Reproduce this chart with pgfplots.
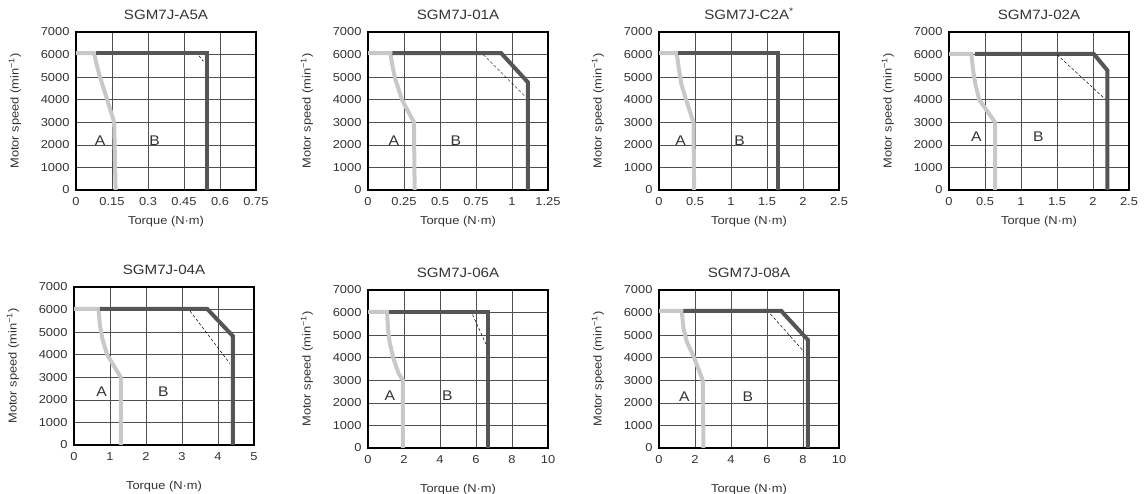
\documentclass[border=0pt]{standalone}
\usepackage{fontspec}
\setmainfont{Liberation Sans}[FakeStretch=1.12]
\usepackage{pgfplots}
\pgfplotsset{compat=1.18}
\definecolor{lightc}{HTML}{C8C8C8}
\definecolor{darkc}{HTML}{555555}
\definecolor{gridc}{HTML}{505050}
\definecolor{txt}{HTML}{333333}
\tikzset{ab/.style={font=\fontsize{14}{16}\selectfont, text=txt}}
\pgfplotsset{
 tc/.style={
  scale only axis, width=180pt, height=158pt,
  anchor=south west,
  ymin=0, ymax=7000, ytick={0,1000,...,7000},
  scaled y ticks=false, scaled x ticks=false,
  /pgf/number format/1000 sep={},
  /pgf/number format/assume math mode=true,
  xmin=0,
  grid=major,
  major grid style={gridc, line width=0.7pt},
  major tick length=0pt,
  axis line style={black, line width=1.5pt},
  tick label style={font=\fontsize{11.5}{13}\selectfont, text=txt},
  yticklabel style={xshift=-3pt},
  xticklabel style={yshift=-4pt},
  title style={font=\fontsize{13.5}{15}\selectfont, text=txt, at={(0.5,1)}, anchor=base, yshift=6pt},
  every axis y label/.style={at={(axis description cs:-0.339,0.5)}, rotate=90, anchor=center, font=\fontsize{11.5}{13}\selectfont, text=txt},
  every axis x label/.style={at={(axis description cs:0.5,-0.2)}, anchor=center, font=\fontsize{11.5}{13}\selectfont, text=txt},
  ylabel={Motor speed (min\textsuperscript{−1})},
  xlabel={Torque (N·m)},
 },
 lt/.style={lightc, line width=4pt, line join=miter, line cap=butt},
 dk/.style={darkc, line width=4pt, line join=miter, line cap=butt},
 ds/.style={black, line width=0.5pt, dash pattern=on 3pt off 2pt},
 lowrow/.style={every axis x label/.append style={at={(axis description cs:0.5,-0.26)}}},
}
\begin{document}
\begin{tikzpicture}
\useasboundingbox (0,0) rectangle (1144pt,494pt);
% 1: A5A
\begin{axis}[tc, at={(76pt,304pt)}, title={SGM7J-A5A}, xmax=0.75,
  xtick={0,0.15,0.3,0.45,0.6,0.75}, xticklabels={0,0.15,0.3,0.45,0.6,0.75}]
\addplot[lt] coordinates {(0,6060) (0.075,6060) (0.085,5600) (0.1,5000) (0.115,4500) (0.13,4000) (0.159,3000) (0.165,0)};
\addplot[dk] coordinates {(0.085,6060) (0.544,6060) (0.544,0)};
\addplot[ds] coordinates {(0.512,5950) (0.531,5700)};
\node[ab] at (axis cs:0.1,2200) {A};
\node[ab] at (axis cs:0.328,2200) {B};
\end{axis}
% 2: 01A
\begin{axis}[tc, at={(368pt,304pt)}, title={SGM7J-01A}, xmax=1.25,
  xtick={0,0.25,0.5,0.75,1,1.25}, xticklabels={0,0.25,0.5,0.75,1,1.25}]
\addplot[lt] coordinates {(0,6060) (0.155,6060) (0.17,5500) (0.19,4900) (0.236,4000) (0.319,3000) (0.324,0)};
\addplot[dk] coordinates {(0.17,6060) (0.925,6060) (1.11,4775) (1.11,0)};
\addplot[ds] coordinates {(0.80,6000) (1.09,4150)};
\node[ab] at (axis cs:0.18,2200) {A};
\node[ab] at (axis cs:0.61,2200) {B};
\end{axis}
% 3: C2A
\begin{axis}[tc, at={(659pt,304pt)}, title={SGM7J-C2A\textsuperscript{*}}, xmax=2.5,
  xtick={0,0.5,1,1.5,2,2.5}, xticklabels={0,0.5,1,1.5,2,2.5}]
\addplot[lt] coordinates {(0,6060) (0.246,6060) (0.275,5400) (0.31,4700) (0.376,4000) (0.479,3000) (0.488,0)};
\addplot[dk] coordinates {(0.27,6060) (1.655,6060) (1.655,0)};
\node[ab] at (axis cs:0.30,2200) {A};
\node[ab] at (axis cs:1.12,2200) {B};
\end{axis}
% 4: 02A
\begin{axis}[tc, at={(949pt,304pt)}, title={SGM7J-02A}, xmax=2.5,
  xtick={0,0.5,1,1.5,2,2.5}, xticklabels={0,0.5,1,1.5,2,2.5}]
\addplot[lt] coordinates {(0,6030) (0.31,6030) (0.335,5300) (0.365,4700) (0.42,4000) (0.64,3000) (0.64,0)};
\addplot[dk] coordinates {(0.36,6030) (2.01,6030) (2.2,5300) (2.2,0)};
\addplot[ds] coordinates {(1.5,6000) (2.17,4020)};
\node[ab] at (axis cs:0.38,2350) {A};
\node[ab] at (axis cs:1.24,2350) {B};
\end{axis}
% 5: 04A
\begin{axis}[tc, lowrow, at={(74pt,49pt)}, title={SGM7J-04A}, xmax=5,
  xtick={0,1,2,3,4,5}, xticklabels={0,1,2,3,4,5}]
\addplot[lt] coordinates {(0,6030) (0.68,6030) (0.72,5300) (0.79,4700) (0.92,4000) (1.3,3000) (1.3,0)};
\addplot[dk] coordinates {(0.72,6030) (3.70,6030) (4.41,4830) (4.41,0)};
\addplot[ds] coordinates {(3.22,5940) (4.33,3610)};
\node[ab] at (axis cs:0.77,2350) {A};
\node[ab] at (axis cs:2.48,2350) {B};
\end{axis}
% 6: 06A
\begin{axis}[tc, lowrow, at={(368pt,46pt)}, title={SGM7J-06A}, xmax=10,
  xtick={0,2,4,6,8,10}, xticklabels={0,2,4,6,8,10}]
\addplot[lt] coordinates {(0,6030) (1.06,6030) (1.11,5300) (1.2,4700) (1.40,4000) (1.7,3300) (1.94,3000) (1.94,0)};
\addplot[dk] coordinates {(1.15,6030) (6.69,6030) (6.69,0)};
\addplot[ds] coordinates {(5.81,5910) (6.55,4610)};
\node[ab] at (axis cs:1.21,2330) {A};
\node[ab] at (axis cs:4.41,2330) {B};
\end{axis}
% 7: 08A
\begin{axis}[tc, lowrow, at={(659pt,46pt)}, title={SGM7J-08A}, xmax=10,
  xtick={0,2,4,6,8,10}, xticklabels={0,2,4,6,8,10}]
\addplot[lt] coordinates {(0,6080) (1.26,6080) (1.36,5300) (1.55,4700) (1.95,4000) (2.43,3000) (2.47,0)};
\addplot[dk] coordinates {(1.36,6080) (6.78,6080) (8.27,4790) (8.27,0)};
\addplot[ds] coordinates {(6.19,5940) (8.05,4270)};
\node[ab] at (axis cs:1.41,2280) {A};
\node[ab] at (axis cs:4.94,2280) {B};
\end{axis}
\end{tikzpicture}
\end{document}
